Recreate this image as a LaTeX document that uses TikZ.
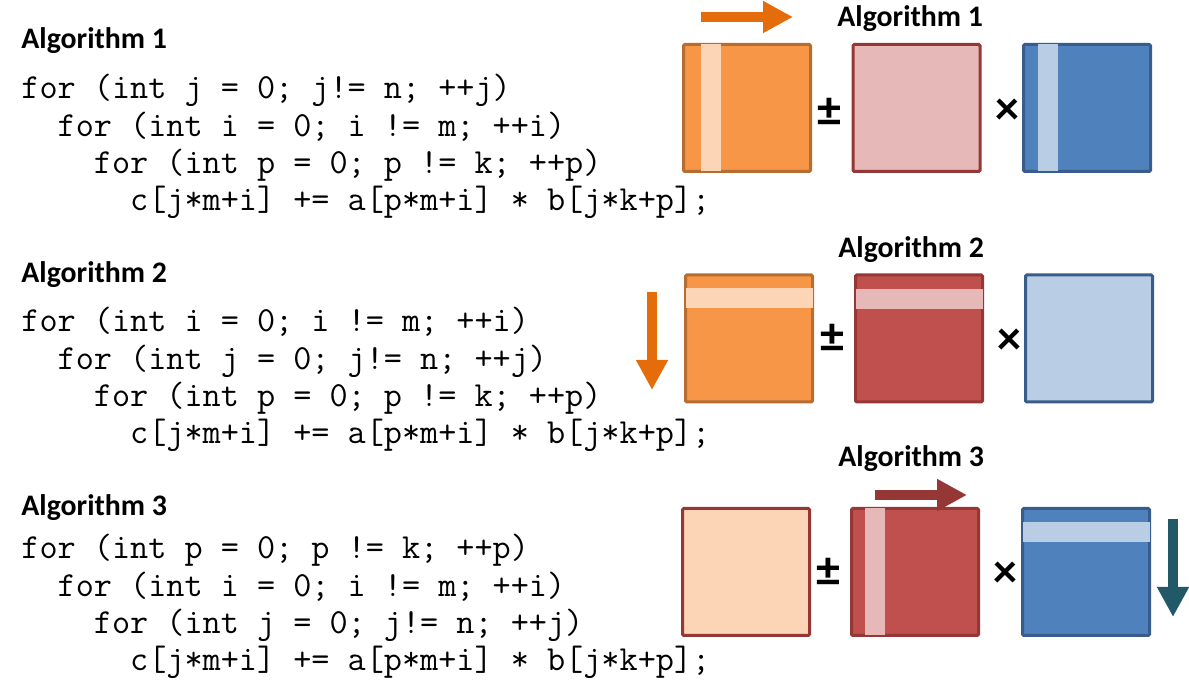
\documentclass[tikz,border=0pt]{standalone}
\usepackage{fontspec}
\setmainfont{Carlito}
\usepackage{tikz}
\usetikzlibrary{arrows.meta,positioning,calc}

\definecolor{orangefill}{HTML}{F79646}
\definecolor{orangeline}{HTML}{B66D31}
\definecolor{peach}{HTML}{FBD5B5}
\definecolor{pink}{HTML}{E6B9B8}
\definecolor{redfill}{HTML}{C0504D}
\definecolor{redline}{HTML}{953735}
\definecolor{bluefill}{HTML}{4F81BD}
\definecolor{blueline}{HTML}{385D8A}
\definecolor{lightblue}{HTML}{B9CDE5}
\definecolor{arroworange}{HTML}{E46C0A}
\definecolor{arrowteal}{HTML}{215968}

\newcommand{\ind}{\hphantom{xx}}

\tikzset{
    title/.style={font=\bfseries\fontsize{14.9}{18}\selectfont, anchor=base west, inner sep=0},
    code/.style={font=\ttfamily\fontsize{17.6}{18.6}\selectfont, anchor=base west, align=left, inner sep=0},
    mat/.style={draw, line width=1.5pt, minimum size=63.5pt, inner sep=0, rounded corners=0.6pt},
    op/.style={font=\bfseries\fontsize{24}{24}\selectfont, inner sep=0},
    sweep/.style={line width=5pt, -{Triangle[width=15pt, length=15pt]}}
}

\begin{document}
\begin{tikzpicture}[x=0.5pt, y=-0.5pt]
    \useasboundingbox (0,0) rectangle (1189,694);

    % Algorithm 1 (code node sits on its last line)
    \node[title] (t1) at (21,49) {Algorithm 1};
    \node[code] (k1) at (21,210.6) {for (int j = 0; j!= n; ++j)\\
        \ind for (int i = 0; i != m; ++i)\\
        \ind\ind for (int p = 0; p != k; ++p)\\
        \ind\ind\ind c[j*m+i] += a[p*m+i] * b[j*k+p];};

    \node[mat, fill=orangefill, draw=orangeline] (c1) at (747,108) {};
    \node[mat, fill=pink, draw=redline] (a1) at (916.5,108) {};
    \node[mat, fill=bluefill, draw=blueline] (b1) at (1087,108) {};
    \fill[peach] ([xshift=9.5pt, yshift=-0.75pt]c1.north west) rectangle ([xshift=19.5pt, yshift=0.75pt]c1.south west);
    \fill[lightblue] ([xshift=8pt, yshift=-0.75pt]b1.north west) rectangle ([xshift=18pt, yshift=0.75pt]b1.south west);
    \node[op] (pm1) at (829,112) {±};
    \node[op] (x1) at (1007,112) {×};
    \node[title] (h1) at (837,27) {Algorithm 1};
    \coordinate (s1) at (701,17);
    \coordinate (e1) at (793,17);
    \draw[sweep, arroworange] (s1) -- (e1);

    % Algorithm 2
    \node[title] (t2) at (21,283) {Algorithm 2};
    \node[code] (k2) at (21,443.6) {for (int i = 0; i != m; ++i)\\
        \ind for (int j = 0; j!= n; ++j)\\
        \ind\ind for (int p = 0; p != k; ++p)\\
        \ind\ind\ind c[j*m+i] += a[p*m+i] * b[j*k+p];};

    \node[mat, fill=orangefill, draw=orangeline] (c2) at (749,338.5) {};
    \node[mat, fill=redfill, draw=redline] (a2) at (919,338.5) {};
    \node[mat, fill=lightblue, draw=blueline] (b2) at (1089,338.5) {};
    \fill[peach] ([xshift=0.75pt, yshift=-7.5pt]c2.north west) rectangle ([xshift=-0.75pt, yshift=-17.5pt]c2.north east);
    \fill[pink] ([xshift=0.75pt, yshift=-8pt]a2.north west) rectangle ([xshift=-0.75pt, yshift=-18pt]a2.north east);
    \node[op] (pm2) at (832,338) {±};
    \node[op] (x2) at (1009,342) {×};
    \node[title] (h2) at (838,258) {Algorithm 2};
    \coordinate (s2) at (652,292);
    \coordinate (e2) at (652,390);
    \draw[sweep, arroworange] (s2) -- (e2);

    % Algorithm 3
    \node[title] (t3) at (21,516) {Algorithm 3};
    \node[code] (k3) at (21,670.6) {for (int p = 0; p != k; ++p)\\
        \ind for (int i = 0; i != m; ++i)\\
        \ind\ind for (int j = 0; j!= n; ++j)\\
        \ind\ind\ind c[j*m+i] += a[p*m+i] * b[j*k+p];};

    \node[mat, fill=peach, draw=redline] (c3) at (746,572) {};
    \node[mat, fill=redfill, draw=redline] (a3) at (915,572) {};
    \node[mat, fill=bluefill, draw=blueline] (b3) at (1086,572) {};
    \fill[pink] ([xshift=7.5pt, yshift=-0.75pt]a3.north west) rectangle ([xshift=17.5pt, yshift=0.75pt]a3.south west);
    \fill[lightblue] ([xshift=0.75pt, yshift=-7.5pt]b3.north west) rectangle ([xshift=-0.75pt, yshift=-17.5pt]b3.north east);
    \node[op] (pm3) at (828,572) {±};
    \node[op] (x3) at (1005,575) {×};
    \node[title] (h3) at (838,467) {Algorithm 3};
    \coordinate (s3) at (875,495);
    \coordinate (e3) at (967,495);
    \draw[sweep, redline] (s3) -- (e3);
    \coordinate (s4) at (1173,519);
    \coordinate (e4) at (1173,617);
    \draw[sweep, arrowteal] (s4) -- (e4);
\end{tikzpicture}
\end{document}
